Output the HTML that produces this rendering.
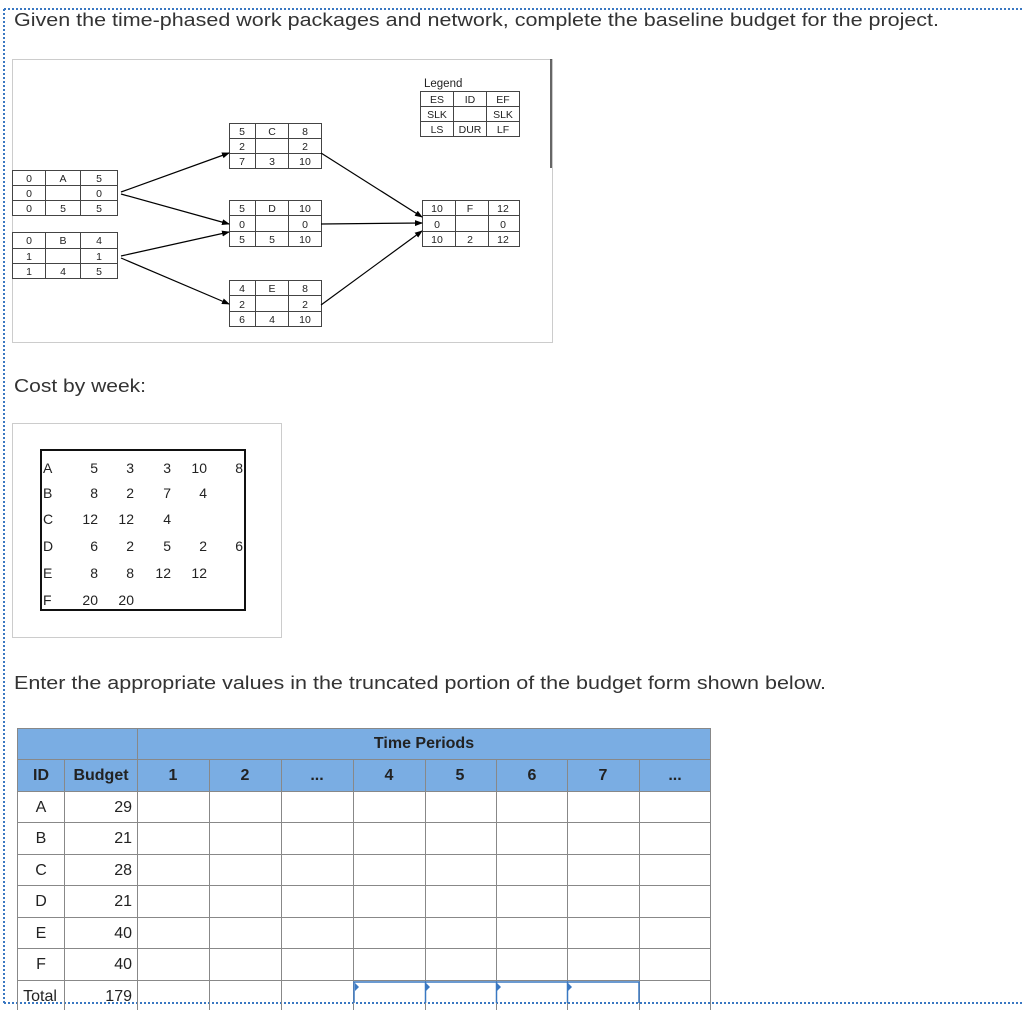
<!DOCTYPE html>
<html><head><meta charset="utf-8"><style>
html,body{margin:0;padding:0;background:#fff;}
svg{display:block;font-family:"Liberation Sans",sans-serif;}
</style></head><body>
<svg width="1024" height="1010" viewBox="0 0 1024 1010" xmlns="http://www.w3.org/2000/svg">
<defs><marker id="ar" markerWidth="8" markerHeight="6" refX="7" refY="3" orient="auto" markerUnits="userSpaceOnUse"><path d="M0,0 L8,3 L0,6 z" fill="#000"/></marker></defs>
<line x1="4" y1="9" x2="1024" y2="9" stroke="#3a78c2" stroke-width="2" stroke-dasharray="2,2"/>
<line x1="4" y1="9" x2="4" y2="1003" stroke="#3a78c2" stroke-width="2" stroke-dasharray="2,2"/>
<line x1="4" y1="1003" x2="1024" y2="1003" stroke="#3a78c2" stroke-width="2" stroke-dasharray="2,2"/>
<text x="14" y="26" font-size="18" fill="#333" textLength="925" lengthAdjust="spacingAndGlyphs">Given the time-phased work packages and network, complete the baseline budget for the project.</text>

<rect x="12.5" y="59.5" width="540" height="283" fill="#fff" stroke="#ccc"/>
<line x1="551" y1="59" x2="551" y2="168" stroke="#333" stroke-width="1.5"/>
<text x="424" y="87" font-size="11.5" fill="#222">Legend</text>
<g stroke="#444" fill="none" stroke-width="1">
<rect x="420.5" y="91.5" width="99" height="45"/><line x1="420" y1="106.5" x2="520" y2="106.5"/><line x1="420" y1="121.5" x2="520" y2="121.5"/><line x1="453.5" y1="91" x2="453.5" y2="137"/><line x1="486.5" y1="91" x2="486.5" y2="137"/>
<rect x="12.5" y="170.5" width="105" height="45"/><line x1="12" y1="185.5" x2="118" y2="185.5"/><line x1="12" y1="200.5" x2="118" y2="200.5"/><line x1="45.5" y1="170" x2="45.5" y2="216"/><line x1="80.5" y1="170" x2="80.5" y2="216"/>
<rect x="12.5" y="232.5" width="105" height="46"/><line x1="12" y1="248.5" x2="118" y2="248.5"/><line x1="12" y1="263.5" x2="118" y2="263.5"/><line x1="45.5" y1="232" x2="45.5" y2="279"/><line x1="80.5" y1="232" x2="80.5" y2="279"/>
<rect x="229.5" y="123.5" width="92" height="45"/><line x1="229" y1="138.5" x2="322" y2="138.5"/><line x1="229" y1="153.5" x2="322" y2="153.5"/><line x1="255.5" y1="123" x2="255.5" y2="169"/><line x1="288.5" y1="123" x2="288.5" y2="169"/>
<rect x="229.5" y="200.5" width="92" height="46"/><line x1="229" y1="215.5" x2="322" y2="215.5"/><line x1="229" y1="231.5" x2="322" y2="231.5"/><line x1="255.5" y1="200" x2="255.5" y2="247"/><line x1="288.5" y1="200" x2="288.5" y2="247"/>
<rect x="229.5" y="280.5" width="92" height="46"/><line x1="229" y1="295.5" x2="322" y2="295.5"/><line x1="229" y1="311.5" x2="322" y2="311.5"/><line x1="255.5" y1="280" x2="255.5" y2="327"/><line x1="288.5" y1="280" x2="288.5" y2="327"/>
<rect x="422.5" y="200.5" width="97" height="46"/><line x1="422" y1="215.5" x2="520" y2="215.5"/><line x1="422" y1="231.5" x2="520" y2="231.5"/><line x1="455.5" y1="200" x2="455.5" y2="247"/><line x1="488.5" y1="200" x2="488.5" y2="247"/>
</g>
<g stroke="#000" stroke-width="1.2" marker-end="url(#ar)">
<line x1="121" y1="192" x2="229" y2="153"/>
<line x1="121" y1="194" x2="229" y2="224"/>
<line x1="121" y1="256" x2="229" y2="232"/>
<line x1="121" y1="258" x2="229" y2="304"/>
<line x1="321" y1="153" x2="422" y2="217"/>
<line x1="321" y1="224" x2="422" y2="223"/>
<line x1="321" y1="305" x2="422" y2="231"/>
</g>
<g font-size="10.5" fill="#222" text-anchor="middle">
<text x="437" y="103">ES</text><text x="470" y="103">ID</text><text x="503" y="103">EF</text>
<text x="437" y="118">SLK</text><text x="503" y="118">SLK</text>
<text x="437" y="133">LS</text><text x="470" y="133">DUR</text><text x="503" y="133">LF</text>
<text x="29" y="182">0</text><text x="63" y="182">A</text><text x="99" y="182">5</text>
<text x="29" y="197">0</text><text x="99" y="197">0</text>
<text x="29" y="212">0</text><text x="63" y="212">5</text><text x="99" y="212">5</text>
<text x="29" y="244">0</text><text x="63" y="244">B</text><text x="99" y="244">4</text>
<text x="29" y="260">1</text><text x="99" y="260">1</text>
<text x="29" y="275">1</text><text x="63" y="275">4</text><text x="99" y="275">5</text>
<text x="242" y="135">5</text><text x="272" y="135">C</text><text x="305" y="135">8</text>
<text x="242" y="150">2</text><text x="305" y="150">2</text>
<text x="242" y="165">7</text><text x="272" y="165">3</text><text x="305" y="165">10</text>
<text x="242" y="212">5</text><text x="272" y="212">D</text><text x="305" y="212">10</text>
<text x="242" y="228">0</text><text x="305" y="228">0</text>
<text x="242" y="243">5</text><text x="272" y="243">5</text><text x="305" y="243">10</text>
<text x="242" y="292">4</text><text x="272" y="292">E</text><text x="305" y="292">8</text>
<text x="242" y="308">2</text><text x="305" y="308">2</text>
<text x="242" y="323">6</text><text x="272" y="323">4</text><text x="305" y="323">10</text>
<text x="437" y="212">10</text><text x="470" y="212">F</text><text x="503" y="212">12</text>
<text x="437" y="228">0</text><text x="503" y="228">0</text>
<text x="437" y="243">10</text><text x="470" y="243">2</text><text x="503" y="243">12</text>
</g>

<text x="14" y="392" font-size="18" fill="#333" textLength="132" lengthAdjust="spacingAndGlyphs">Cost by week:</text>
<rect x="12.5" y="423.5" width="269" height="214" fill="#fff" stroke="#ccc"/>
<rect x="41" y="450" width="204" height="160" fill="none" stroke="#111" stroke-width="2"/>
<g font-size="14" fill="#222">
<text x="43" y="473">A</text><text x="43" y="498">B</text><text x="43" y="524">C</text><text x="43" y="551">D</text><text x="43" y="578">E</text><text x="43" y="605">F</text>
</g>
<g font-size="14" fill="#222" text-anchor="end">
<text x="98" y="473">5</text><text x="134" y="473">3</text><text x="171" y="473">3</text><text x="207" y="473">10</text><text x="243" y="473">8</text>
<text x="98" y="498">8</text><text x="134" y="498">2</text><text x="171" y="498">7</text><text x="207" y="498">4</text>
<text x="98" y="524">12</text><text x="134" y="524">12</text><text x="171" y="524">4</text>
<text x="98" y="551">6</text><text x="134" y="551">2</text><text x="171" y="551">5</text><text x="207" y="551">2</text><text x="243" y="551">6</text>
<text x="98" y="578">8</text><text x="134" y="578">8</text><text x="171" y="578">12</text><text x="207" y="578">12</text>
<text x="98" y="605">20</text><text x="134" y="605">20</text>
</g>

<text x="14" y="689" font-size="18" fill="#333" textLength="812" lengthAdjust="spacingAndGlyphs">Enter the appropriate values in the truncated portion of the budget form shown below.</text>

<rect x="17" y="728" width="694" height="63" fill="#7aade3"/>
<g stroke="#888" stroke-width="1" fill="none">
<rect x="17.5" y="728.5" width="693" height="290"/>
<line x1="17" y1="759.5" x2="711" y2="759.5"/>
<line x1="17" y1="791.5" x2="711" y2="791.5"/>
<line x1="17" y1="822.5" x2="711" y2="822.5"/>
<line x1="17" y1="854.5" x2="711" y2="854.5"/>
<line x1="17" y1="885.5" x2="711" y2="885.5"/>
<line x1="17" y1="917.5" x2="711" y2="917.5"/>
<line x1="17" y1="948.5" x2="711" y2="948.5"/>
<line x1="17" y1="980.5" x2="711" y2="980.5"/>
<line x1="64.5" y1="759" x2="64.5" y2="1010"/>
<line x1="137.5" y1="728" x2="137.5" y2="1010"/>
<line x1="209.5" y1="759" x2="209.5" y2="1010"/>
<line x1="281.5" y1="759" x2="281.5" y2="1010"/>
<line x1="353.5" y1="759" x2="353.5" y2="1010"/>
<line x1="425.5" y1="759" x2="425.5" y2="1010"/>
<line x1="496.5" y1="759" x2="496.5" y2="1010"/>
<line x1="567.5" y1="759" x2="567.5" y2="1010"/>
<line x1="639.5" y1="759" x2="639.5" y2="1010"/>
</g>
<g stroke="#3a78c2" stroke-width="1.5" fill="none">
<path d="M354,1003 V982 H639 V1003"/>
<line x1="425.5" y1="982" x2="425.5" y2="1003"/><line x1="496.5" y1="982" x2="496.5" y2="1003"/><line x1="567.5" y1="982" x2="567.5" y2="1003"/>
</g>
<g fill="#3a78c2"><path d="M355,983 l4,4 l-4,4z"/><path d="M426,983 l4,4 l-4,4z"/><path d="M497,983 l4,4 l-4,4z"/><path d="M568,983 l4,4 l-4,4z"/></g>
<g font-size="16" fill="#222">
<text x="424" y="748" text-anchor="middle" font-weight="bold">Time Periods</text>
<g font-weight="bold" text-anchor="middle">
<text x="41" y="780">ID</text><text x="101" y="780">Budget</text><text x="173" y="780">1</text><text x="245" y="780">2</text><text x="317" y="780">...</text><text x="389" y="780">4</text><text x="460" y="780">5</text><text x="532" y="780">6</text><text x="603" y="780">7</text><text x="675" y="780">...</text>
</g>
<g text-anchor="middle"><text x="41" y="812">A</text><text x="41" y="843">B</text><text x="41" y="875">C</text><text x="41" y="906">D</text><text x="41" y="938">E</text><text x="41" y="969">F</text><text x="40" y="1001">Total</text></g>
<g text-anchor="end"><text x="132" y="812">29</text><text x="132" y="843">21</text><text x="132" y="875">28</text><text x="132" y="906">21</text><text x="132" y="938">40</text><text x="132" y="969">40</text><text x="132" y="1001">179</text></g>
</g>
</svg>
</body></html>
